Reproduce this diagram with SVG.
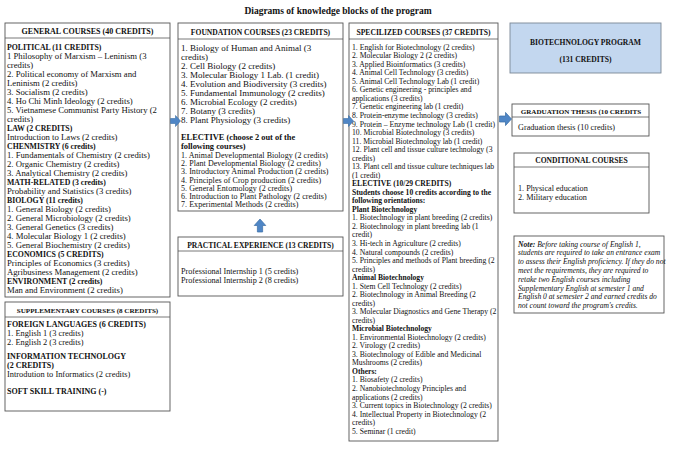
<svg xmlns="http://www.w3.org/2000/svg" width="680" height="449" viewBox="0 0 680 449">
<style>
.box{fill:#fff;stroke:#555;stroke-width:0.9}
.sep{stroke:#555;stroke-width:0.8}
.prog{fill:#C3D7EF;stroke:#7A8796;stroke-width:0.9}
text{font-family:"Liberation Serif","Times New Roman",serif;fill:#111}
.title{font-size:9.5px;font-weight:bold;text-anchor:middle}
.hd{font-size:7.6px;font-weight:bold;text-anchor:middle}
.g{font-size:8.7px}
.g .b{font-size:7.8px}
.su{font-size:8.4px}
.su .b{font-size:8px}
.f{font-size:9px}
.f .b{font-size:8.4px}
.p{font-size:8.2px}
.s{font-size:7.7px}
.s .b{font-size:7.6px}
.e{font-size:8px;letter-spacing:0.05px}
.b{font-weight:bold}
.n{font-size:7.6px;font-style:italic}
.arr{fill:#4F86C6;stroke:#3A6EA5;stroke-width:0.6}
</style>
<defs>
<path id="rarrow" d="M0,-2.5 H5 V-5.5 L10,0 L5,5.5 V2.5 H0 Z"/>
</defs>
<rect width="680" height="449" fill="#fff"/>
<text class="title" x="338" y="14">Diagrams of knowledge blocks of the program</text>

<g id="general">
<rect class="box" x="5" y="23" width="165" height="274"/>
<line class="sep" x1="5" y1="38" x2="170" y2="38"/>
<text class="hd" x="87.5" y="34" style="font-size:8px">GENERAL  COURSES (40 CREDITS)</text>
<text class="g" x="7">
<tspan x="7" y="50" class="b">POLITICAL  (11 CREDITS)</tspan>
<tspan x="7" y="59">1 Philosophy of Marxism  – Leninism  (3</tspan>
<tspan x="7" y="68">credits)</tspan>
<tspan x="7" y="77">2. Political economy of Marxism and</tspan>
<tspan x="7" y="86">Leninism  (2 credits)</tspan>
<tspan x="7" y="95">3. Socialism  (2 credits)</tspan>
<tspan x="7" y="104">4. Ho Chi Minh Ideology (2 credits)</tspan>
<tspan x="7" y="113">5. Vietnamese  Communist  Party History  (2</tspan>
<tspan x="7" y="122">credits)</tspan>
<tspan x="7" y="131" class="b">LAW  (2 CREDITS)</tspan>
<tspan x="7" y="140">Introduction to Laws  (2 credits)</tspan>
<tspan x="7" y="149" class="b">CHENMISTRY  (6 credits)</tspan>
<tspan x="7" y="158">1. Fundamentals  of Chemistry  (2 credits)</tspan>
<tspan x="7" y="167">2. Organic Chemistry  (2 credits)</tspan>
<tspan x="7" y="176">3. Analytical Chemistry  (2 credits)</tspan>
<tspan x="7" y="185" class="b">MATH-RELATED  (3 credits)</tspan>
<tspan x="7" y="194">Probability and Statistics (3 credits)</tspan>
<tspan x="7" y="203" class="b">BIOLOGY  (11 credits)</tspan>
<tspan x="7" y="212">1. General Biology  (2 credits)</tspan>
<tspan x="7" y="221">2. General Microbiology  (2 credits)</tspan>
<tspan x="7" y="230">3. General Genetics  (3 credits)</tspan>
<tspan x="7" y="239">4. Molecular  Biology 1  (2 credits)</tspan>
<tspan x="7" y="248">5. General Biochemistry  (2 credits)</tspan>
<tspan x="7" y="257" class="b">ECONOMICS  (5 CREDITS)</tspan>
<tspan x="7" y="266">Principles of Economics (3 credits)</tspan>
<tspan x="7" y="275">Agribusiness  Management  (2 credits)</tspan>
<tspan x="7" y="284" class="b">ENVIRONMENT   (2 credits)</tspan>
<tspan x="7" y="293">Man and Environment  (2 credits)</tspan>
</text>
</g>

<g id="supplementary">
<rect class="box" x="5" y="302" width="165" height="109"/>
<line class="sep" x1="5" y1="317" x2="170" y2="317"/>
<text class="hd" x="87.5" y="313" style="font-size:7.1px">SUPPLEMENTARY COURSES (8 CREDITS)</text>
<text class="su" x="7">
<tspan x="7" y="327" class="b">FOREIGN LANGUAGES (6 CREDITS)</tspan>
<tspan x="7" y="336">1. English 1 (3 credits)</tspan>
<tspan x="7" y="345">2. English 2 (3 credits)</tspan>
<tspan x="7" y="359" class="b">INFORMATION   TECHNOLOGY</tspan>
<tspan x="7" y="368" class="b">(2 CREDITS)</tspan>
<tspan x="7" y="377">Introdution to Informatics (2 credits)</tspan>
<tspan x="7" y="394" class="b">SOFT SKILL  TRAINING  (-)</tspan>
</text>
</g>

<g id="foundation">
<rect class="box" x="178" y="23" width="165" height="188"/>
<line class="sep" x1="178" y1="39" x2="343" y2="39"/>
<text class="hd" x="260.5" y="35">FOUNDATION COURSES (23 CREDITS)</text>
<text class="f" x="181">
<tspan x="181" y="51">1. Biology of Human and Animal  (3</tspan>
<tspan x="181" y="60">credits)</tspan>
<tspan x="181" y="69">2. Cell Biology  (2 credits)</tspan>
<tspan x="181" y="78">3. Molecular  Biology  1 Lab.  (1 credit)</tspan>
<tspan x="181" y="87">4. Evolution and Biodiversity  (3 credits)</tspan>
<tspan x="181" y="96">5. Fundamental  Immunology  (2 credits)</tspan>
<tspan x="181" y="105">6. Microbial  Ecology  (2 credits)</tspan>
<tspan x="181" y="114">7. Botany  (3 credits)</tspan>
<tspan x="181" y="123">8. Plant Physiology  (3 credits)</tspan>
<tspan x="181" y="140" class="b">ELECTIVE  (choose 2 out of the</tspan>
<tspan x="181" y="149" class="b">following courses)</tspan>
</text>
<text class="e" x="181">
<tspan x="181" y="158">1. Animal Developmental Biology (2 credits)</tspan>
<tspan x="181" y="166.2">2. Plant Developmental Biology (2 credits)</tspan>
<tspan x="181" y="174.4">3. Introductory Animal Production (2 credits)</tspan>
<tspan x="181" y="182.6">4. Principles of Crop production (2 credits)</tspan>
<tspan x="181" y="190.8">5. General Entomology (2 credits)</tspan>
<tspan x="181" y="199">6. Introduction to Plant Pathology (2 credits)</tspan>
<tspan x="181" y="207.2">7. Experimental Methods (2 credits)</tspan>
</text>
</g>

<g id="practical">
<rect class="box" x="178" y="237" width="165" height="59"/>
<line class="sep" x1="178" y1="251" x2="343" y2="251"/>
<text class="hd" x="260.5" y="247.5">PRACTICAL EXPERIENCE (13 CREDITS)</text>
<text class="p" x="181">
<tspan x="181" y="273.5">Professional  Internship  1 (5 credits)</tspan>
<tspan x="181" y="282.5">Professional  Internship  2 (8 credits)</tspan>
</text>
</g>

<g id="specialized">
<rect class="box" x="349" y="23" width="149" height="418"/>
<line class="sep" x1="349" y1="39" x2="498" y2="39"/>
<text class="hd" x="423.5" y="35">SPECILIZED COURSES (37 CREDITS)</text>
<text class="s" x="352">
<tspan x="352" y="49.7">1. English for Biotechnology (2 credits)</tspan>
<tspan x="352" y="58.2">2. Molecular Biology 2 (2 credits)</tspan>
<tspan x="352" y="66.8">3. Applied Bioinformatics (3 credits)</tspan>
<tspan x="352" y="75.3">4. Animal Cell Technology (3 credits)</tspan>
<tspan x="352" y="83.8">5. Animal Cell Technology Lab (1 credit)</tspan>
<tspan x="352" y="92.4">6. Genetic engineering - principles and</tspan>
<tspan x="352" y="100.9">applications (3 credits)</tspan>
<tspan x="352" y="109.4">7. Genetic engineering lab (1 credit)</tspan>
<tspan x="352" y="118">8. Protein-enzyme technology (3 credits)</tspan>
<tspan x="352" y="126.5">9. Protein – Enzyme technology Lab (1 credit)</tspan>
<tspan x="352" y="135">10. Microbial Biotechnology (3 credits)</tspan>
<tspan x="352" y="143.6">11. Microbial Biotechnology lab (1 credit)</tspan>
<tspan x="352" y="152.1">12. Plant cell and tissue culture technology (3</tspan>
<tspan x="352" y="160.6">credits)</tspan>
<tspan x="352" y="169.2">13. Plant cell and tissue culture techniques lab</tspan>
<tspan x="352" y="177.7">(1 credit)</tspan>
<tspan x="352" y="186.2" class="b">ELECTIVE  (10/29 CREDITS)</tspan>
<tspan x="352" y="194.7" class="b">Students choose 10 credits according to the</tspan>
<tspan x="352" y="203.3" class="b">following orientations:</tspan>
<tspan x="352" y="211.8" class="b">Plant Biotechnology</tspan>
<tspan x="352" y="220.3">1. Biotechnology in plant breeding (2 credits)</tspan>
<tspan x="352" y="228.9">2. Biotechnology in plant breeding lab (1</tspan>
<tspan x="352" y="237.4">credit)</tspan>
<tspan x="352" y="245.9">3. Hi-tech in Agriculture (2 credits)</tspan>
<tspan x="352" y="254.5">4. Natural compounds (2 credits)</tspan>
<tspan x="352" y="263">5. Principles and methods of Plant breeding (2</tspan>
<tspan x="352" y="271.5">credits)</tspan>
<tspan x="352" y="280.1" class="b">Animal Biotechnology</tspan>
<tspan x="352" y="288.6">1. Stem Cell Technology (2 credits)</tspan>
<tspan x="352" y="297.1">2. Biotechnology in Animal Breeding (2</tspan>
<tspan x="352" y="305.7">credits)</tspan>
<tspan x="352" y="314.2">3. Molecular Diagnostics and Gene Therapy (2</tspan>
<tspan x="352" y="322.7">credits)</tspan>
<tspan x="352" y="331.2" class="b">Microbial Biotechnology</tspan>
<tspan x="352" y="339.8">1. Environmental Biotechnology (2 credits)</tspan>
<tspan x="352" y="348.3">2. Virology (2 credits)</tspan>
<tspan x="352" y="356.8">3. Biotechnology of Edible and Medicinal</tspan>
<tspan x="352" y="365.4">Mushrooms (2 credits)</tspan>
<tspan x="352" y="373.9" class="b">Others:</tspan>
<tspan x="352" y="382.4">1. Biosafety (2 credits)</tspan>
<tspan x="352" y="391">2. Nanobiotechnology Principles and</tspan>
<tspan x="352" y="399.5">applications (2 credits)</tspan>
<tspan x="352" y="408">3. Current topics in Biotechnology (2 credits)</tspan>
<tspan x="352" y="416.6">4. Intellectual Property in Biotechnology (2</tspan>
<tspan x="352" y="425.1">credits)</tspan>
<tspan x="352" y="433.6">5. Seminar (1 credit)</tspan>
</text>
</g>

<g id="program">
<rect class="prog" x="510" y="23" width="151" height="50"/>
<text class="hd" x="585.5" y="45">BIOTECHNOLOGY PROGRAM</text>
<text class="hd" x="585.5" y="62">(131 CREDITS)</text>
</g>

<g id="graduation">
<rect class="box" x="512" y="104" width="137" height="32"/>
<line class="sep" x1="512" y1="117" x2="649" y2="117"/>
<text class="hd" x="581" y="113.5" style="font-size:7.1px">GRADUATION THESIS  (10 CREDITS</text>
<text class="p" x="518" y="129.5">Graduation  thesis  (10 credits)</text>
</g>

<g id="conditional">
<rect class="box" x="514" y="153" width="135" height="60"/>
<line class="sep" x1="514" y1="167" x2="649" y2="167"/>
<text class="hd" x="581.5" y="163">CONDITIONAL  COURSES</text>
<text class="p" x="518">
<tspan x="518" y="190.5">1. Physical  education</tspan>
<tspan x="518" y="199.5">2. Military  education</tspan>
</text>
</g>

<g id="note">
<rect class="box" x="514" y="236" width="150" height="77"/>
<text class="n" x="518">
<tspan x="518" y="246.5"><tspan font-weight="bold">Note:</tspan> Before taking course of English 1,</tspan>
<tspan x="518" y="255.3">students are required to take an entrance exam</tspan>
<tspan x="518" y="264.1">to assess their English proficiency. If they do not</tspan>
<tspan x="518" y="272.9">meet the requirements, they are required to</tspan>
<tspan x="518" y="281.7">retake two English courses including</tspan>
<tspan x="518" y="290.5">Supplementary English at semester 1 and</tspan>
<tspan x="518" y="299.3">English 0 at semester 2 and earned credits do</tspan>
<tspan x="518" y="308.1">not count toward the program's credits.</tspan>
</text>
</g>

<g id="connectors">
<use href="#rarrow" class="arr" transform="translate(170.5,121)"/>
<use href="#rarrow" class="arr" transform="translate(343.5,121)"/>
<use href="#rarrow" class="arr" transform="translate(499.5,119) scale(1.2)"/>
<use href="#rarrow" class="arr" transform="translate(260,232) rotate(-90) scale(1.3,1.05)"/>
</g>
</svg>
